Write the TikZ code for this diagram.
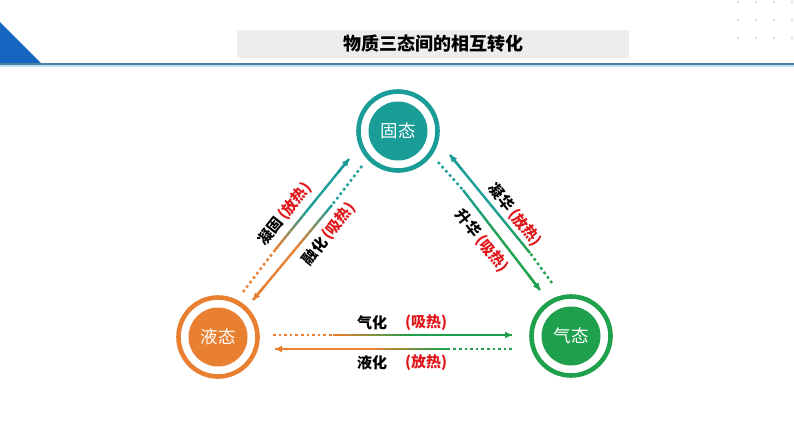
\documentclass[tikz,border=0pt]{standalone}
\usepackage{fontspec}
\setmainfont{Noto Sans CJK SC}
\usetikzlibrary{arrows.meta,calc}
\definecolor{tealc}{HTML}{1A9C97}
\definecolor{orangec}{HTML}{E97F30}
\definecolor{greenc}{HTML}{1FA04C}
\definecolor{redc}{HTML}{E0161B}
\definecolor{bluec}{HTML}{1565C0}
\definecolor{linec}{HTML}{4E7FA0}
\definecolor{lightlinec}{HTML}{BFE3F2}
\definecolor{titlebg}{HTML}{EDEDED}
\newcommand\gradarrow[5]{%
  % #1 start, #2 break, #3 end, #4 colour from, #5 colour to
  \draw[#4, line width=2.4, dash pattern=on 2.6pt off 3pt] (#1) -- (#2);
  \foreach \i in {0,...,23}{%
    \pgfmathsetmacro\ta{\i/24}%
    \pgfmathsetmacro\tb{(\i+1)/24}%
    \pgfmathtruncatemacro\pp{min(100,100*\i/10)}%
    \draw[line width=2.4, #5!\pp!#4] ($(#2)!\ta!(#3)$) -- ($(#2)!\tb!(#3)$);
  }%
  \draw[#5, line width=2.4, -{Triangle[length=7pt,width=6pt]}] ($(#2)!0.85!(#3)$) -- (#3);
}
\begin{document}
\begin{tikzpicture}[x=1pt,y=-1pt,
  state/.style={circle, inner sep=0pt, outer sep=0pt, minimum size=59pt, text=white, font=\fontsize{17.5}{17.5}\selectfont},
  lab/.style={font=\bfseries\fontsize{15}{16}\selectfont, text=black, inner sep=0pt},
  heat/.style={text=redc}]
\useasboundingbox (0,0) rectangle (794,447);
\fill[white] (0,0) rectangle (794,447);
% header decoration
\fill[bluec] (0,22) -- (42,64) -- (0,64) -- cycle;
\draw[lightlinec, line width=1.5] (0,65.8) -- (794,65.8);
\draw[linec, line width=1.6] (0,64) -- (794,64);
\foreach \x in {738,756,774,792}{\foreach \y in {2,20,38}{\fill[black!18] (\x,\y) circle (1.2);}}
\node[fill=titlebg, minimum width=392pt, minimum height=28pt, inner sep=0pt,
      font=\bfseries\fontsize{18}{18}\selectfont] (title) at (433,44) {物质三态间的相互转化};
% states
\node[state, fill=tealc] (solid) at (398,131) {固态};
\node[state, fill=orangec] (liquid) at (218,337) {液态};
\node[state, fill=greenc] (gas) at (571,336) {气态};
\draw[tealc, line width=4.6] (solid.center) circle (39.5);
\draw[orangec, line width=4.6] (liquid.center) circle (39.5);
\draw[greenc, line width=4.6] (gas.center) circle (39.5);
% arrow coordinates
\coordinate (ngS) at (243,292); \coordinate (ngB) at (275,250); \coordinate (ngE) at (349,159);
\coordinate (rhS) at (362,166); \coordinate (rhB) at (332,205); \coordinate (rhE) at (253,300);
\coordinate (nhS) at (552,283); \coordinate (nhB) at (530,253); \coordinate (nhE) at (450,155);
\coordinate (shS) at (438,162); \coordinate (shB) at (463,190); \coordinate (shE) at (540,290);
\coordinate (qhS) at (273,335); \coordinate (qhB) at (333,335); \coordinate (qhE) at (512,335);
\coordinate (yhS) at (512,349); \coordinate (yhB) at (448,349); \coordinate (yhE) at (275,349);
\gradarrow{ngS}{ngB}{ngE}{orangec}{tealc}
\gradarrow{rhS}{rhB}{rhE}{tealc}{orangec}
\gradarrow{nhS}{nhB}{nhE}{greenc}{tealc}
\gradarrow{shS}{shB}{shE}{tealc}{greenc}
\gradarrow{qhS}{qhB}{qhE}{orangec}{greenc}
\gradarrow{yhS}{yhB}{yhE}{greenc}{orangec}
% labels
\node[lab, rotate=51.5] (lng) at (285,214) {凝固\,{\color{redc}(放热)}};
\node[lab, rotate=51.5] (lrh) at (329,234) {融化\,{\color{redc}(吸热)}};
\node[lab, rotate=-51.5] (lnh) at (515,215) {凝华\,{\color{redc}(放热)}};
\node[lab, rotate=-51.5] (lsh) at (482,241) {升华\,{\color{redc}(吸热)}};
\node[lab] (lqh) at (372,323) {气化};
\node[lab, heat] (lqhh) at (426,323) {(吸热)};
\node[lab] (lyh) at (372,363) {液化};
\node[lab, heat] (lyhh) at (426,363) {(放热)};
\end{tikzpicture}
\end{document}
